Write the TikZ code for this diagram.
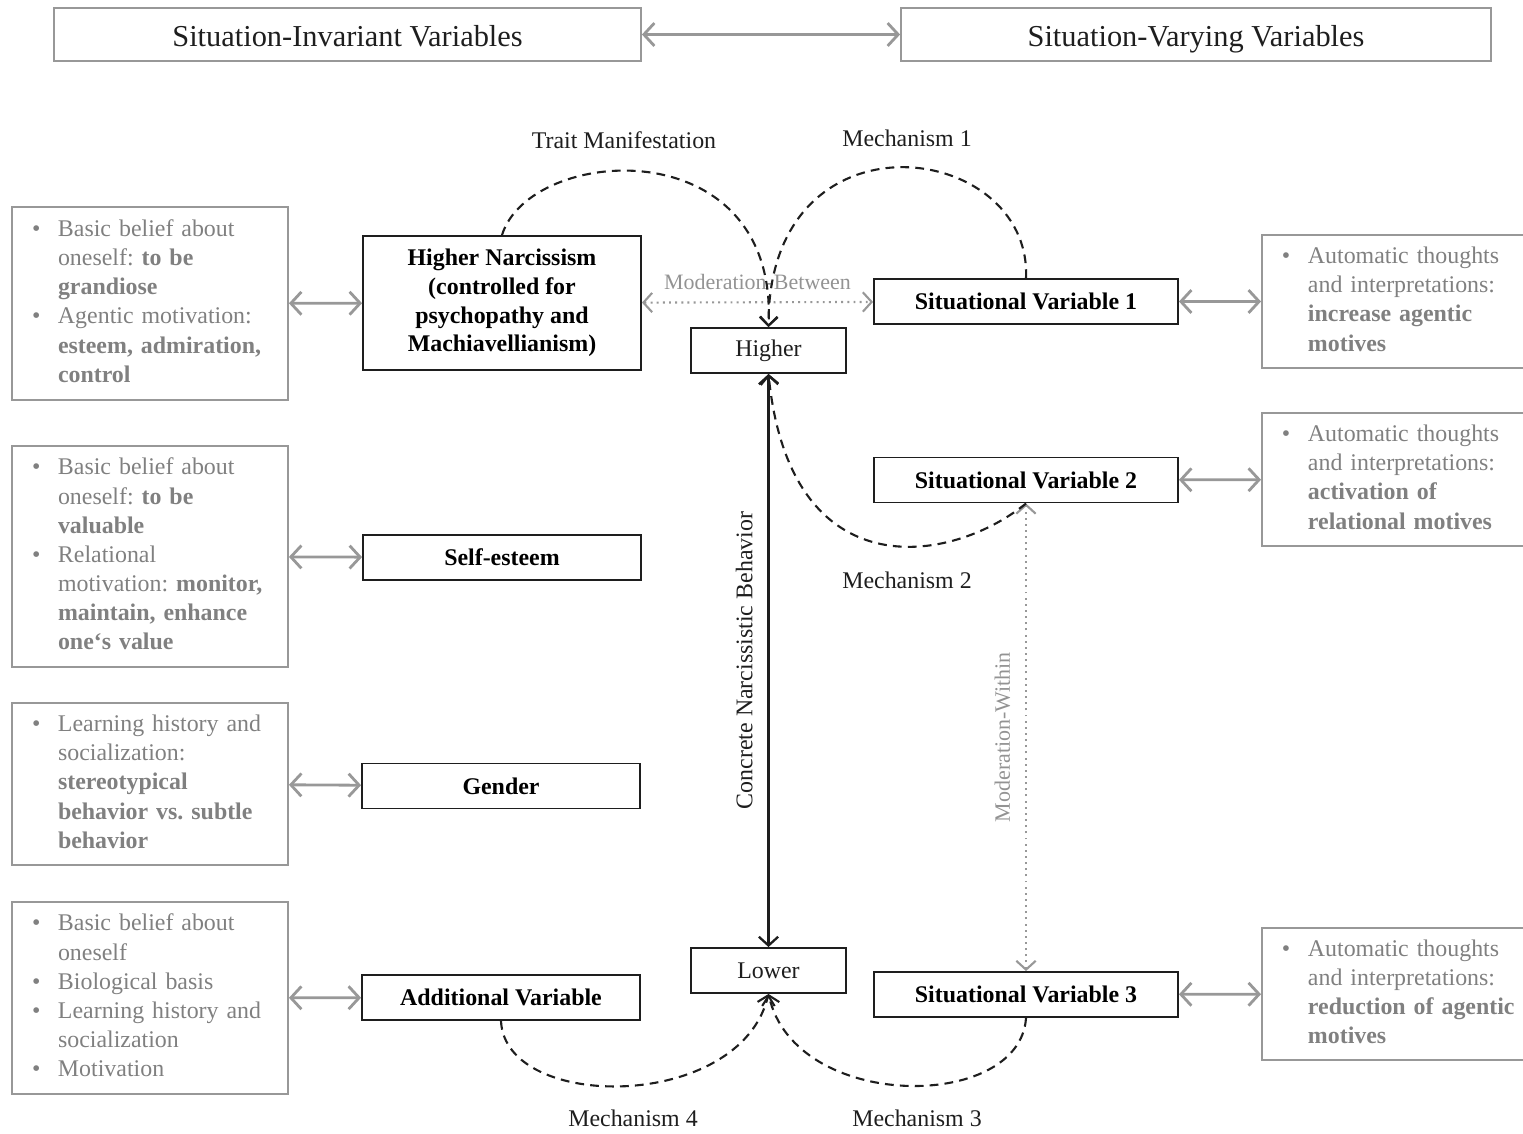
\documentclass[tikz,border=0pt]{standalone}
\usepackage{fontspec}
\setmainfont{Liberation Serif}
\usetikzlibrary{arrows.meta}
\definecolor{notegray}{RGB}{128,128,128}
\definecolor{linegray}{RGB}{152,152,152}
\definecolor{inkblack}{RGB}{30,30,30}
\frenchspacing

\newcommand{\notelist}[1]{\begin{tabular}{@{}p{0.52cm}@{}l@{}}#1\end{tabular}}

\begin{document}
\begin{tikzpicture}[x=0.02cm, y=-0.02cm,
	headbox/.style={draw=linegray, line width=1.1pt, minimum height=1.06cm, text height=15pt, text depth=0.8pt, text=inkblack, font=\fontsize{17.3}{20}\selectfont},
	varbox/.style={draw=inkblack, line width=1.1pt, minimum width=5.56cm, minimum height=0.9cm, align=center, font=\fontsize{13.6}{16.4}\selectfont\bfseries},
	levelbox/.style={draw=inkblack, line width=1.1pt, minimum width=3.1cm, minimum height=0.9cm, text=inkblack, font=\fontsize{13.6}{16.4}\selectfont},
	notebox/.style={draw=linegray, line width=1.1pt, text=notegray, align=left, inner xsep=0.4cm, inner ysep=0pt, font=\fontsize{13.6}{16.6}\selectfont},
	graylink/.style={linegray, line width=1.6pt, {Straight Barb[length=6pt,width=13pt]}-{Straight Barb[length=6pt,width=13pt]}},
	modlink/.style={linegray, line width=1.2pt, dash pattern=on 1.1pt off 2.4pt, {Straight Barb[length=5pt,width=11pt]}-{Straight Barb[length=5pt,width=11pt]}},
	modtext/.style={text=notegray!85, font=\fontsize{12.5}{15}\selectfont},
	mechline/.style={inkblack, line width=1.2pt, dash pattern=on 5pt off 3.5pt, -{Straight Barb[length=5pt,width=10pt]}},
	mechtext/.style={text=inkblack, font=\fontsize{13.6}{16.4}\selectfont}
	]
	\useasboundingbox (0,0) rectangle (1523,1133);

	% headers
	\node[headbox, minimum width=11.74cm] (invariant) at (347.5,34.5) {Situation-Invariant Variables};
	\node[headbox, minimum width=11.8cm] (varying) at (1196,34.5) {Situation-Varying Variables};
	\draw[graylink] (invariant) -- (varying);

	% left notes
	\node[notebox, text width=4.72cm, minimum height=3.86cm] (note1) at (150,303.5) {\notelist{
		\textbullet & Basic belief about\\
		& oneself: \textbf{to be}\\
		& \textbf{grandiose}\\
		\textbullet & Agentic motivation:\\
		& \textbf{esteem, admiration,}\\
		& \textbf{control}}};
	\node[notebox, text width=4.72cm, minimum height=4.42cm] (note2) at (150,556.5) {\notelist{
		\textbullet & Basic belief about\\
		& oneself: \textbf{to be}\\
		& \textbf{valuable}\\
		\textbullet & Relational\\
		& motivation: \textbf{monitor,}\\
		& \textbf{maintain, enhance}\\
		& \textbf{one‘s value}}};
	\node[notebox, text width=4.72cm, minimum height=3.24cm] (note3) at (150,784) {\notelist{
		\textbullet & Learning history and\\
		& socialization:\\
		& \textbf{stereotypical}\\
		& \textbf{behavior vs. subtle}\\
		& \textbf{behavior}}};
	\node[notebox, text width=4.72cm, minimum height=3.84cm] (note4) at (150,998) {\notelist{
		\textbullet & Basic belief about\\
		& oneself\\
		\textbullet & Biological basis\\
		\textbullet & Learning history and\\
		& socialization\\
		\textbullet & Motivation}};

	% trait variables
	\node[varbox, minimum height=2.68cm] (narc) at (502,303) {Higher Narcissism\\(controlled for\\psychopathy and\\Machiavellianism)};
	\node[varbox] (selfest) at (502,557.5) {Self-esteem};
	\node[varbox] (gender) at (501,786) {Gender};
	\node[varbox] (addvar) at (501,997.5) {Additional Variable};

	\draw[graylink] (note1) -- (narc);
	\draw[graylink] (note2) -- (selfest);
	\draw[graylink] (note3) -- (gender);
	\draw[graylink] (note4) -- (addvar);

	% behavior levels
	\node[levelbox] (high) at (768.5,350.5) {Higher};
	\node[levelbox] (low) at (768.5,970.5) {Lower};
	\draw[inkblack, line width=1.3pt, {Straight Barb[length=5pt,width=11pt]}-{Straight Barb[length=5pt,width=11pt]}]
		(low) -- node[sloped, above=5pt, mechtext] {Concrete Narcissistic Behavior} (high);

	% situational variables
	\node[varbox, minimum width=6.08cm] (sit1) at (1026,301.5) {Situational Variable 1};
	\node[varbox, minimum width=6.08cm] (sit2) at (1026,480) {Situational Variable 2};
	\node[varbox, minimum width=6.08cm] (sit3) at (1026,994.5) {Situational Variable 3};

	% right notes
	\node[notebox, text width=4.8cm, minimum height=2.66cm, anchor=west] (rnote1) at (1261,301.5) {\notelist{
		\textbullet & Automatic thoughts\\
		& and interpretations:\\
		& \textbf{increase agentic}\\
		& \textbf{motives}}};
	\node[notebox, text width=4.8cm, minimum height=2.66cm, anchor=west] (rnote2) at (1261,479.5) {\notelist{
		\textbullet & Automatic thoughts\\
		& and interpretations:\\
		& \textbf{activation of}\\
		& \textbf{relational motives}}};
	\node[notebox, text width=4.8cm, minimum height=2.64cm, anchor=west] (rnote3) at (1261,994) {\notelist{
		\textbullet & Automatic thoughts\\
		& and interpretations:\\
		& \textbf{reduction of agentic}\\
		& \textbf{motives}}};

	\draw[graylink] (sit1) -- (rnote1);
	\draw[graylink] (sit2) -- (rnote2);
	\draw[graylink] (sit3) -- (rnote3);

	% moderations
	\draw[modlink] (narc) -- node[above=3pt, modtext] {Moderation-Between} (sit1);
	\draw[modlink] (sit3) -- node[sloped, above=5pt, modtext] {Moderation-Within} (sit2);

	% mechanisms
	\draw[mechline] (narc.north) .. controls (530,145) and (778,128) .. (high.north);
	\draw[mechline] (sit1.north) .. controls (1032,140) and (768,105) .. (high.north);
	\draw[mechline] (sit2.south) .. controls (950,565) and (790,590) .. (high.south);
	\draw[mechline] (sit3.south) .. controls (1020,1112) and (795,1112) .. (low.south);
	\draw[mechline] (addvar.south) .. controls (505,1112) and (740,1112) .. (low.south);

	\node[mechtext] (traitlbl) at (624,140) {Trait Manifestation};
	\node[mechtext] (mech1lbl) at (907,138) {Mechanism 1};
	\node[mechtext] (mech2lbl) at (907,580) {Mechanism 2};
	\node[mechtext] (mech3lbl) at (917,1118) {Mechanism 3};
	\node[mechtext] (mech4lbl) at (633,1118) {Mechanism 4};
\end{tikzpicture}
\end{document}
